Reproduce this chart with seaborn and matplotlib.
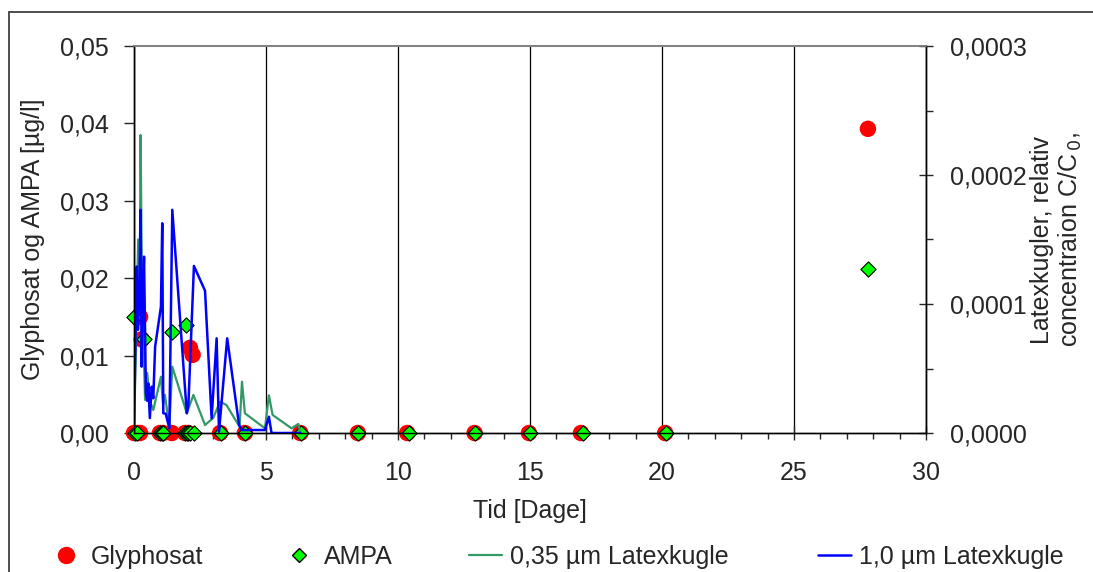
import seaborn as sns
import matplotlib.pyplot as plt
import matplotlib.ticker as mticker
from matplotlib.lines import Line2D
from matplotlib.patches import Rectangle
import pandas as pd

# Glyphosat og AMPA [µg/l]
glyph_days = [0.0, 0.12, 0.23, 0.23, 0.29, 0.98, 1.1, 1.43, 1.93, 2.05, 2.12, 2.22,
              3.26, 4.2, 6.3, 8.48, 10.35, 12.9, 14.96, 16.93, 20.12, 27.8]
glyph_vals = [0, 0, 0, 0.015, 0.0121, 0, 0, 0, 0, 0, 0.011, 0.0101,
              0, 0, 0, 0, 0, 0, 0, 0, 0, 0.0393]
ampa_days = [0.0, 0.05, 0.12, 0.38, 0.98, 1.05, 1.1, 1.45, 1.93, 1.97, 2.0, 2.05,
             2.12, 2.28, 3.3, 4.2, 6.33, 8.5, 10.4, 12.9, 15.0, 17.0, 20.15, 27.8]
ampa_vals = [0.015, 0, 0, 0.0121, 0, 0, 0, 0.0131, 0, 0.014, 0, 0,
             0, 0, 0, 0, 0, 0, 0, 0, 0, 0, 0, 0.0212]

# Latexkugler, relativ C/C0
small_days = [0, 0.16, 0.22, 0.25, 0.3, 0.42, 0.5, 0.6, 0.73, 1.02, 1.1, 1.17, 1.34,
              1.45, 2.0, 2.25, 2.69, 3.0, 3.26, 3.5, 4.0, 4.09, 4.2, 4.96, 5.11,
              5.25, 5.97, 6.22, 6.3]
small_vals = [0, 0.000150, 0.000120, 0.000231, 0.000113, 0.0000256, 0.0000465,
              0.000025, 0.0000178, 0.0000436, 0.000022, 0.0000295, 0.0000049,
              0.0000514, 0.0000153, 0.0000295, 0.0000062, 0.0000116, 0.0000243,
              0.0000217, 0.0000049, 0.0000398, 0.0000153, 0.0000036, 0.0000292,
              0.000014, 0.0000036, 0.000007, 0.000001]
big_days = [0, 0.1, 0.15, 0.2, 0.25, 0.29, 0.33, 0.38, 0.45, 0.5, 0.54, 0.6, 0.67,
            0.73, 0.8, 1.02, 1.07, 1.11, 1.2, 1.34, 1.45, 2.0, 2.06, 2.27, 2.69,
            2.94, 3.13, 3.22, 3.53, 3.98, 4.08, 4.96, 5.11, 5.21, 6.3]
big_vals = [0, 0.000129, 0.00008, 0.00011, 0.000173, 0.0000514, 0.0001, 0.0001367,
            0.0000308, 0.000025, 0.0000385, 0.0000116, 0.0000359, 0.0000269,
            0.0000669, 0.0000979, 0.0001626, 0.0000153, 0.000015, 0.0000036,
            0.000173, 0.0000153, 0.0000217, 0.0001295, 0.0001103, 0.0000114,
            0.0000734, 0.000001, 0.0000734, 0.0000062, 0.0000023, 0.0000023,
            0.0000126, 0.0, 0.0]

sns.set_style("white")
plt.rcParams['font.family'] = ['Liberation Sans', 'DejaVu Sans']
plt.rcParams['font.size'] = 18
FS = 18

RED = '#ff0000'
LIME = '#00ff00'
GREEN = '#339966'
BLUE = '#0000ff'

fig = plt.figure(figsize=(10.93, 5.72), dpi=100)
ax1 = fig.add_axes([134 / 1093, 1 - 433 / 572, 792 / 1093, 387 / 572])
ax2 = ax1.twinx()

glyph = pd.DataFrame({'dag': glyph_days, 'v': glyph_vals})
ampa = pd.DataFrame({'dag': ampa_days, 'v': ampa_vals})
small = pd.DataFrame({'dag': small_days, 'v': small_vals})
big = pd.DataFrame({'dag': big_days, 'v': big_vals})

sns.scatterplot(data=glyph, x='dag', y='v', ax=ax1, color=RED, s=140,
                edgecolor='none', marker='o', clip_on=False, zorder=3)
sns.scatterplot(data=ampa, x='dag', y='v', ax=ax1, color=LIME, s=60,
                edgecolor='black', linewidth=0.8, marker='D', clip_on=False, zorder=4)

sns.lineplot(data=small, x='dag', y='v', ax=ax2, color=GREEN, lw=1.6,
             sort=False, estimator=None)
sns.lineplot(data=big, x='dag', y='v', ax=ax2, color=BLUE, lw=1.8,
             sort=False, estimator=None)

ax1.set_xlim(0, 30)
ax1.set_ylim(0, 0.05)
ax2.set_ylim(0, 0.0003)

ax1.xaxis.set_major_locator(mticker.MultipleLocator(5))
ax1.xaxis.set_minor_locator(mticker.MultipleLocator(1))
ax1.yaxis.set_major_locator(mticker.MultipleLocator(0.01))
ax2.yaxis.set_major_locator(mticker.MultipleLocator(0.0001))
ax2.yaxis.set_minor_locator(mticker.MultipleLocator(0.00005))

ax1.xaxis.set_major_formatter(mticker.FuncFormatter(lambda v, p: f"{v:.0f}"))
ax1.yaxis.set_major_formatter(mticker.FuncFormatter(lambda v, p: f"{v:.2f}".replace('.', ',')))
ax2.yaxis.set_major_formatter(mticker.FuncFormatter(lambda v, p: f"{v:.4f}".replace('.', ',')))

ax1.grid(axis='x', which='major', color='black', lw=0.9)
ax1.grid(axis='y', visible=False)
ax2.grid(False)

ax1.tick_params(axis='x', which='major', direction='inout', length=10, width=1, pad=15,
                labelsize=FS, bottom=True)
ax1.tick_params(axis='x', which='minor', direction='out', length=4.5, width=1, bottom=True)
ax1.tick_params(axis='y', which='major', direction='out', length=7, width=1, left=True,
                labelsize=FS, pad=11)
ax2.tick_params(axis='y', which='major', direction='inout', length=10, width=1, right=True,
                labelsize=FS, pad=12)
ax2.tick_params(axis='y', which='minor', direction='out', length=5, width=1, right=True)

for ax in (ax1, ax2):
    for side in ('left', 'right', 'bottom'):
        ax.spines[side].set_color('black')
        ax.spines[side].set_linewidth(1)
    ax.spines['top'].set_color('#808080')
    ax.spines['top'].set_linewidth(1.2)

ax1.set_xlabel('Tid [Dage]', fontsize=FS, va='center')
ax1.xaxis.set_label_coords(0.5, (433 - 511) / 387)
ax1.set_ylabel('Glyphosat og AMPA [µg/l]', fontsize=FS, va='center')
ax1.yaxis.set_label_coords((33 - 134) / 792, 0.5)
ax2.set_ylabel('Latexkugler, relativ\nconcentraion C/C$_{\\,0}$,', fontsize=FS,
               va='center', linespacing=1.15)
ax2.yaxis.set_label_coords((1057 - 134) / 792, 0.5)

# legend, one entry at a time along the bottom
handles = [
    Line2D([], [], ls='none', marker='o', color=RED, markersize=11.5),
    Line2D([], [], ls='none', marker='D', markerfacecolor=LIME, markeredgecolor='black',
           markersize=7),
    Line2D([], [], color=GREEN, lw=1.6),
    Line2D([], [], color=BLUE, lw=1.8),
]
labels = ['Glyphosat', 'AMPA', '0,35 µm Latexkugle', '1,0 µm Latexkugle']
xs = [50, 283, 469, 818]
for h, lab, x in zip(handles, labels, xs):
    fig.legend([h], [lab], loc='center left', bbox_to_anchor=(x / 1093, 1 - 557 / 572),
               frameon=False, fontsize=FS, handlelength=1.3, handletextpad=0.35,
               borderaxespad=0, borderpad=0)

# outer frame of the chart area
fig.patches.append(Rectangle((9 / 1093, -0.1), 1.5, (572 - 12) / 572 + 0.1,
                             transform=fig.transFigure, fill=False,
                             edgecolor='#404040', lw=1.3))

fig.savefig('out.png', dpi=100)
